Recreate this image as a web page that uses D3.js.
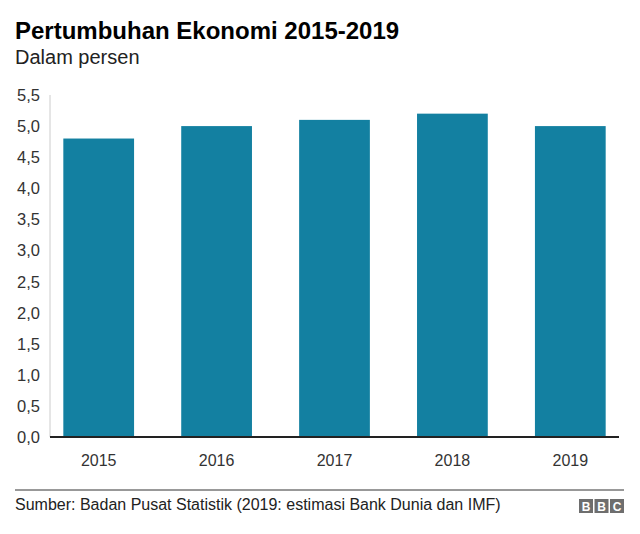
<!DOCTYPE html>
<html>
<head>
<meta charset="utf-8">
<script src="https://cdn.jsdelivr.net/npm/d3@7"></script>
<style>
  body { margin: 0; background: #fff; }
  svg text { font-family: "Liberation Sans", Arial, Helvetica, sans-serif; }
</style>
</head>
<body>
<div id="container"></div>
<script>
// data
const years = ['2015', '2016', '2017', '2018', '2019'];
const growth = [4.8, 5.0, 5.1, 5.2, 5.0];
const yTicks = [0, 0.5, 1, 1.5, 2, 2.5, 3, 3.5, 4, 4.5, 5, 5.5];

const width = 640, height = 534;

const svg = d3.select('#container')
  .append('svg')
  .attr('width', width)
  .attr('height', height);

// plot area
const plotLeft = 50, plotRight = 619, plotTop = 95, plotBottom = 437;

const x = d3.scaleBand()
  .domain(years)
  .range([plotLeft, plotRight])
  .paddingInner(0.4)
  .paddingOuter(0.113);

const y = d3.scaleLinear()
  .domain([0, 5.5])
  .range([plotBottom, plotTop]);

// title
svg.append('text')
  .attr('x', 15).attr('y', 39)
  .style('font-size', '24px')
  .style('font-weight', 'bold')
  .attr('fill', '#000')
  .text('Pertumbuhan Ekonomi 2015-2019');

svg.append('text')
  .attr('x', 15).attr('y', 64)
  .style('font-size', '20px')
  .attr('fill', '#222')
  .text('Dalam persen');

// y axis
const fmt = d => d3.format('.1f')(d).replace('.', ',');

svg.append('line')
  .attr('x1', plotLeft).attr('x2', plotLeft)
  .attr('y1', plotTop).attr('y2', plotBottom)
  .attr('stroke', '#ccc');

svg.selectAll('.ytick')
  .data(yTicks)
  .enter()
  .append('text')
  .attr('class', 'ytick')
  .attr('x', 40)
  .attr('y', d => y(d) + 6)
  .attr('text-anchor', 'end')
  .style('font-size', '16.5px')
  .attr('fill', '#333')
  .text(fmt);

// bars
svg.selectAll('.bar')
  .data(growth)
  .enter()
  .append('rect')
  .attr('class', 'bar')
  .attr('x', (d, i) => x(years[i]))
  .attr('width', x.bandwidth())
  .attr('y', d => y(d))
  .attr('height', d => y(0) - y(d))
  .attr('fill', '#1380a1');

// baseline
svg.append('line')
  .attr('x1', plotLeft).attr('x2', plotRight)
  .attr('y1', plotBottom).attr('y2', plotBottom)
  .attr('stroke', '#222')
  .attr('stroke-width', 2);

// x labels
svg.selectAll('.xlabel')
  .data(years)
  .enter()
  .append('text')
  .attr('class', 'xlabel')
  .attr('x', d => x(d) + x.bandwidth() / 2)
  .attr('y', 466)
  .attr('text-anchor', 'middle')
  .style('font-size', '16px')
  .attr('fill', '#333')
  .text(d => d);

// footer
svg.append('line')
  .attr('x1', 15).attr('x2', 624)
  .attr('y1', 490).attr('y2', 490)
  .attr('stroke', '#333')
  .attr('stroke-width', 1);

svg.append('text')
  .attr('x', 15).attr('y', 510)
  .style('font-size', '16px')
  .attr('fill', '#222')
  .text('Sumber: Badan Pusat Statistik (2019: estimasi Bank Dunia dan IMF)');

// bbc logo
const logo = svg.append('g').attr('transform', 'translate(579,499)');
['B', 'B', 'C'].forEach((c, i) => {
  logo.append('rect')
    .attr('x', i * 15.5).attr('y', 0)
    .attr('width', 14).attr('height', 14)
    .attr('fill', '#6e6e6e');
  logo.append('text')
    .attr('x', i * 15.5 + 7).attr('y', 11.5)
    .attr('text-anchor', 'middle')
    .style('font-size', '12px')
    .style('font-weight', 'bold')
    .attr('fill', '#fff')
    .text(c);
});
</script>
</body>
</html>
